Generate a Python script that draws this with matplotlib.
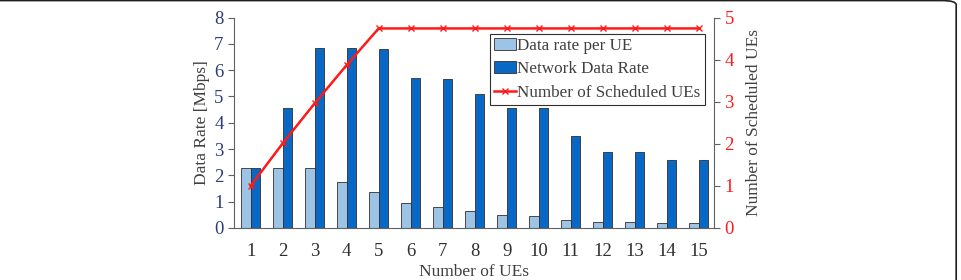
import matplotlib
matplotlib.use("Agg")
import matplotlib.pyplot as plt
import numpy as np
from matplotlib.patches import FancyBboxPatch

n_ues = list(range(1, 16))
rate_per_ue = [2.28, 2.28, 2.28, 1.73, 1.37, 0.95, 0.80, 0.64, 0.49, 0.44, 0.32, 0.24, 0.24, 0.20, 0.18]
network_rate = [2.28, 4.55, 6.85, 6.85, 6.80, 5.70, 5.68, 5.10, 4.55, 4.55, 3.48, 2.88, 2.88, 2.60, 2.60]
# values as drawn against the right-hand axis
scheduled = [1.00, 2.01, 2.96, 3.87, 4.74, 4.74, 4.74, 4.74, 4.74, 4.74, 4.74, 4.74, 4.74, 4.74, 4.74]

plt.rcParams['font.family'] = ['Liberation Serif', 'DejaVu Serif']
txt = '#404040'
navy = '#2E3D7A'
red = '#FF1A1A'

fig = plt.figure(figsize=(9.61, 2.80), dpi=100)
ax = fig.add_axes([234/961, 1-228/280, (714-234)/961, (228-17.5)/280])
x = np.array(n_ues, dtype=float)
w = 0.29
b1 = ax.bar(x - w/2, rate_per_ue, w, color='#9DC3E6', edgecolor='#303030', linewidth=0.6, label='Data rate per UE')
b2 = ax.bar(x + w/2, network_rate, w, color='#0868C4', edgecolor='#303030', linewidth=0.6, label='Network Data Rate')
ax.set_xlim(0.48, 15.48)
ax.set_ylim(0, 8)
ax.set_xticks(n_ues)
ax.set_yticks(range(0, 9))
ax.tick_params(axis='x', length=0, labelsize=13.5, labelcolor='#303030', pad=11)
ax.tick_params(axis='y', direction='out', length=4, labelsize=13.5, labelcolor=navy, color='#606060')
for s in ['top', 'right']:
    ax.spines[s].set_visible(False)
ax.spines['left'].set_color('#606060')
ax.spines['bottom'].set_color('#606060')
ax.set_xlabel('Number of UEs', fontsize=12.5, color=txt, labelpad=3)
ax.set_ylabel('Data Rate [Mbps]', fontsize=12.5, color=txt, labelpad=3)

ax2 = ax.twinx()
ln, = ax2.plot(x, scheduled, color=red, linewidth=1.8, marker='x', markersize=4, markeredgewidth=1, label='Number of Scheduled UEs')
ax2.set_ylim(0, 5)
ax2.set_yticks(range(0, 6))
ax2.tick_params(axis='y', direction='out', length=4, labelsize=13.5, labelcolor=red, color='#606060')
for s in ['top', 'left', 'bottom']:
    ax2.spines[s].set_visible(False)
ax2.spines['right'].set_color('#606060')
ax2.set_ylabel('Number of Scheduled UEs', fontsize=12.5, color=txt, labelpad=9)

leg = ax2.legend([b1, b2, ln], ['Data rate per UE', 'Network Data Rate', 'Number of Scheduled UEs'],
                 loc='upper left', bbox_to_anchor=((490-234)/480, 1-(34-17.5)/210.5),
                 fontsize=12.3, frameon=True, fancybox=False, edgecolor='#303030',
                 handlelength=1.3, handletextpad=0.05, borderpad=0.25, labelspacing=0.42,
                 borderaxespad=0, framealpha=1)
leg.get_frame().set_linewidth(0.8)
for t in leg.get_texts():
    t.set_color(txt)

fig.patches.append(FancyBboxPatch((-0.2, -0.2), 1.2 - 0.005, 1.2 - 0.002,
                                  boxstyle='round,pad=0,rounding_size=0.015',
                                  transform=fig.transFigure, fill=False,
                                  edgecolor='#202020', linewidth=1.2, figure=fig))

fig.savefig('out.png', dpi=100)
